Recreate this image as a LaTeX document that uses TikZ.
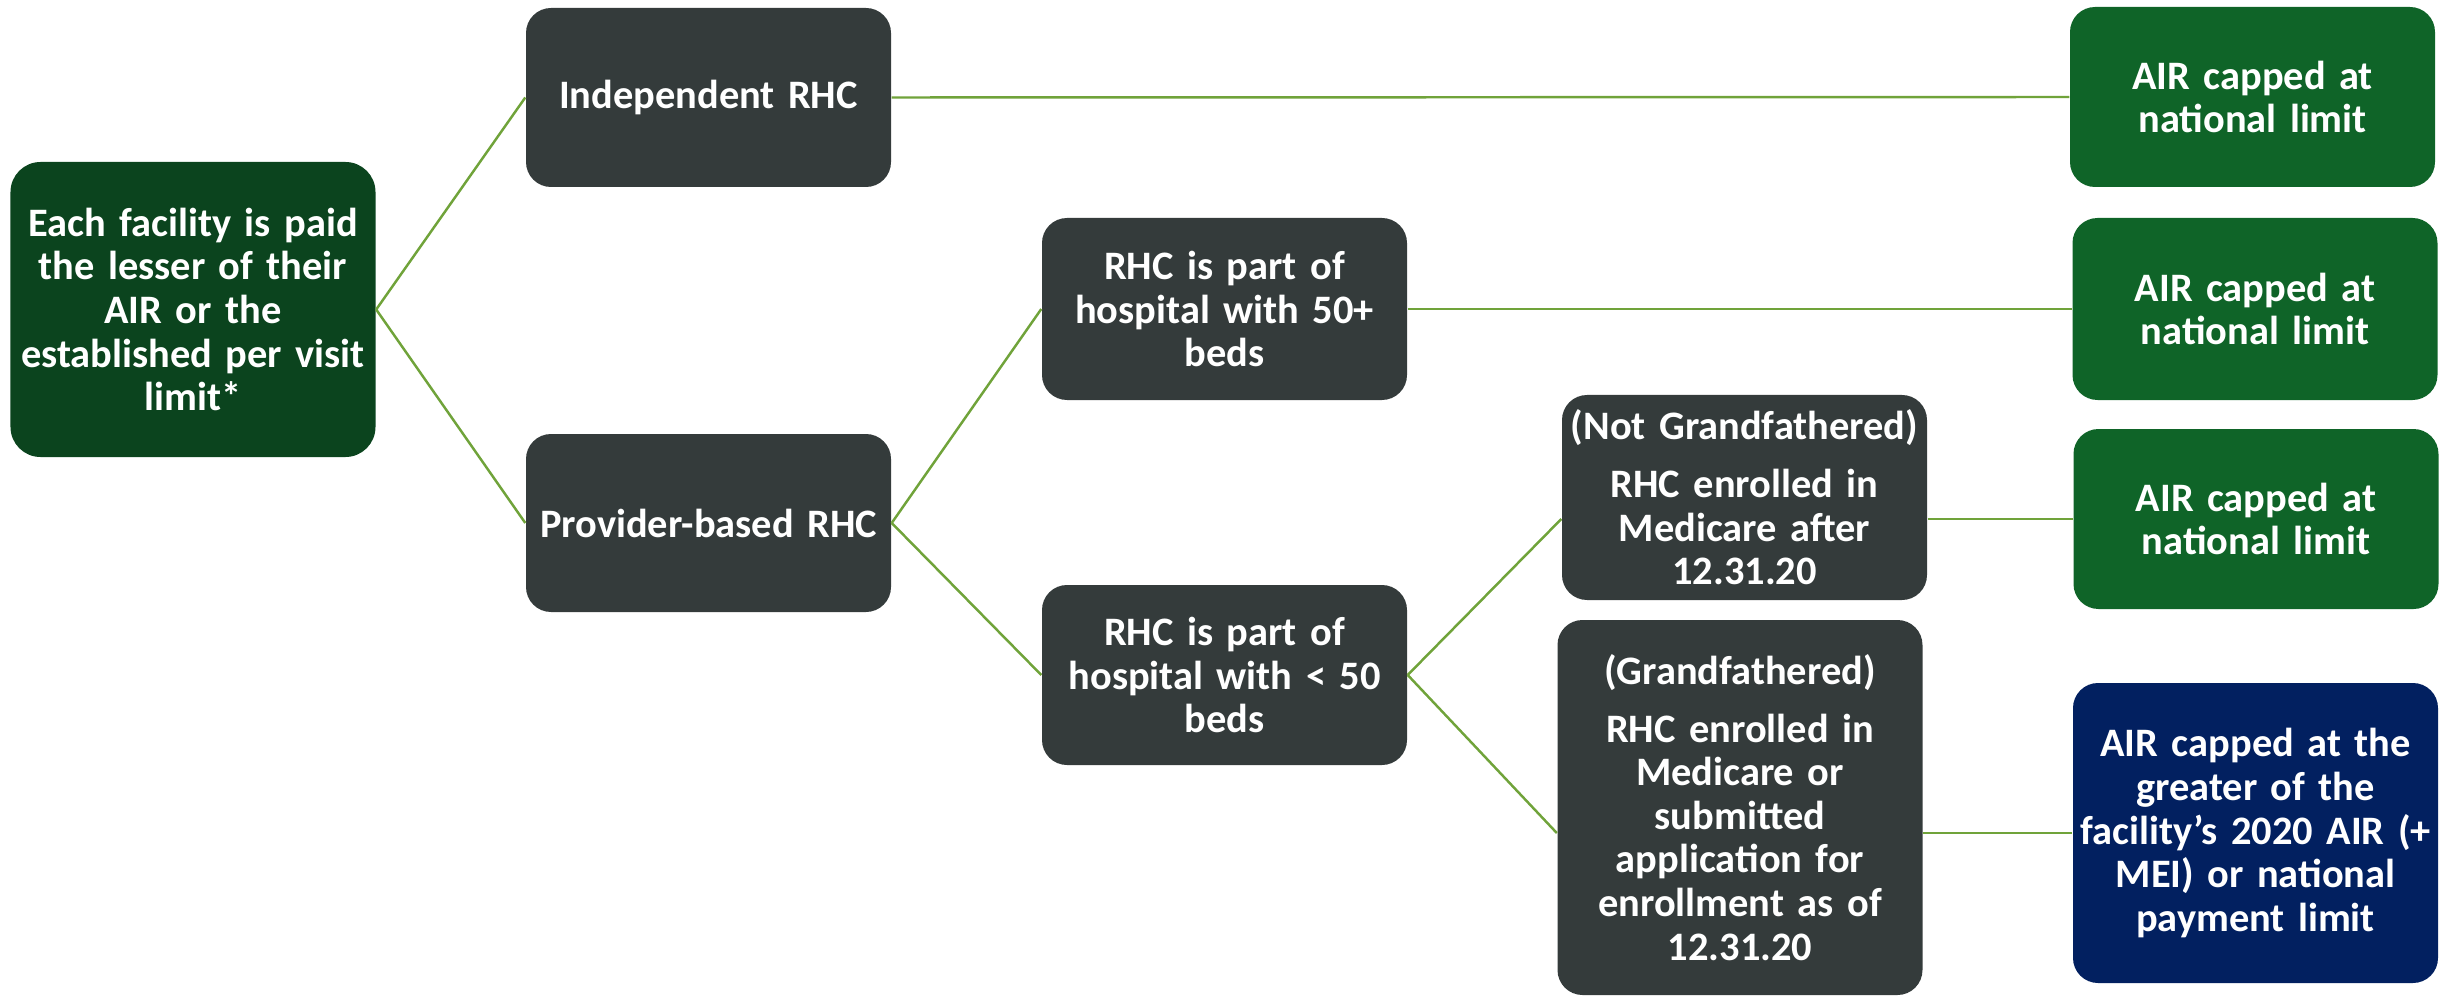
\documentclass[tikz,border=0pt]{standalone}
\usepackage{fontspec}
\setmainfont{Carlito}
\definecolor{rootgreen}{RGB}{11,68,30}
\definecolor{capgreen}{RGB}{15,100,40}
\definecolor{slate}{RGB}{52,59,59}
\definecolor{navy}{RGB}{2,32,96}
\definecolor{linkgreen}{RGB}{112,163,58}
\begin{document}
\begin{tikzpicture}[
  box/.style={rounded corners=0.25cm, text=white, align=center, minimum width=3.65cm,
    text width=3.63cm, font=\fontsize{11.5}{12.4}\selectfont\bfseries, inner sep=0pt},
  link/.style={draw=linkgreen, line width=0.7pt}]

\useasboundingbox (0,0) rectangle (24.47,9.98);

% left part
\node[box, fill=rootgreen, minimum height=2.95cm, rounded corners=0.3cm] (root) at (1.93,6.885)
  {Each facility is paid\\the lesser of their\\AIR or the\\established per visit\\limit*};
\node[box, fill=slate, minimum height=1.79cm] (ind) at (7.085,9.005) {Independent RHC};
\node[box, fill=slate, minimum height=1.78cm] (prov) at (7.085,4.75) {Provider-based RHC};

% hospital size
\node[box, fill=slate, minimum height=1.82cm] (big) at (12.245,6.89) {RHC is part of\\hospital with 50+\\beds};
\node[box, fill=slate, minimum height=1.80cm] (small) at (12.245,3.23) {RHC is part of\\hospital with < 50\\beds};

% enrollment
\node[box, fill=slate, minimum height=2.05cm] (notgf) at (17.445,5.005)
  {(Not Grandfathered)\\[4pt]RHC enrolled in\\Medicare after\\12.31.20};
\node[box, fill=slate, minimum height=3.75cm] (gf) at (17.40,1.905)
  {(Grandfathered)\\[4pt]RHC enrolled in\\Medicare or\\submitted\\application for\\enrollment as of\\12.31.20};

% results
\node[box, fill=capgreen, minimum height=1.80cm] (capA) at (22.525,9.01) {AIR capped at\\national limit};
\node[box, fill=capgreen, minimum height=1.82cm] (capB) at (22.55,6.89) {AIR capped at\\national limit};
\node[box, fill=capgreen, minimum height=1.80cm] (capC) at (22.56,4.79) {AIR capped at\\national limit};
\node[box, fill=navy, minimum height=3.00cm] (capD) at (22.555,1.65)
  {AIR capped at the\\greater of the\\facility's 2020 AIR (+\\MEI) or national\\payment limit};

\draw[link] (root.east) -- (ind.west);
\draw[link] (root.east) -- (prov.west);
\draw[link] (prov.east) -- (big.west);
\draw[link] (prov.east) -- (small.west);
\draw[link] (small.east) -- (notgf.west |- capC.west);
\draw[link] (small.east) -- (gf.west |- capD.west);

\draw[link] (ind.east) -- (capA.west);
\draw[link] (big.east) -- (capB.west);
\draw[link] (notgf.east |- capC.west) -- (capC.west);
\draw[link] (gf.east |- capD.west) -- (capD.west);
\end{tikzpicture}
\end{document}
